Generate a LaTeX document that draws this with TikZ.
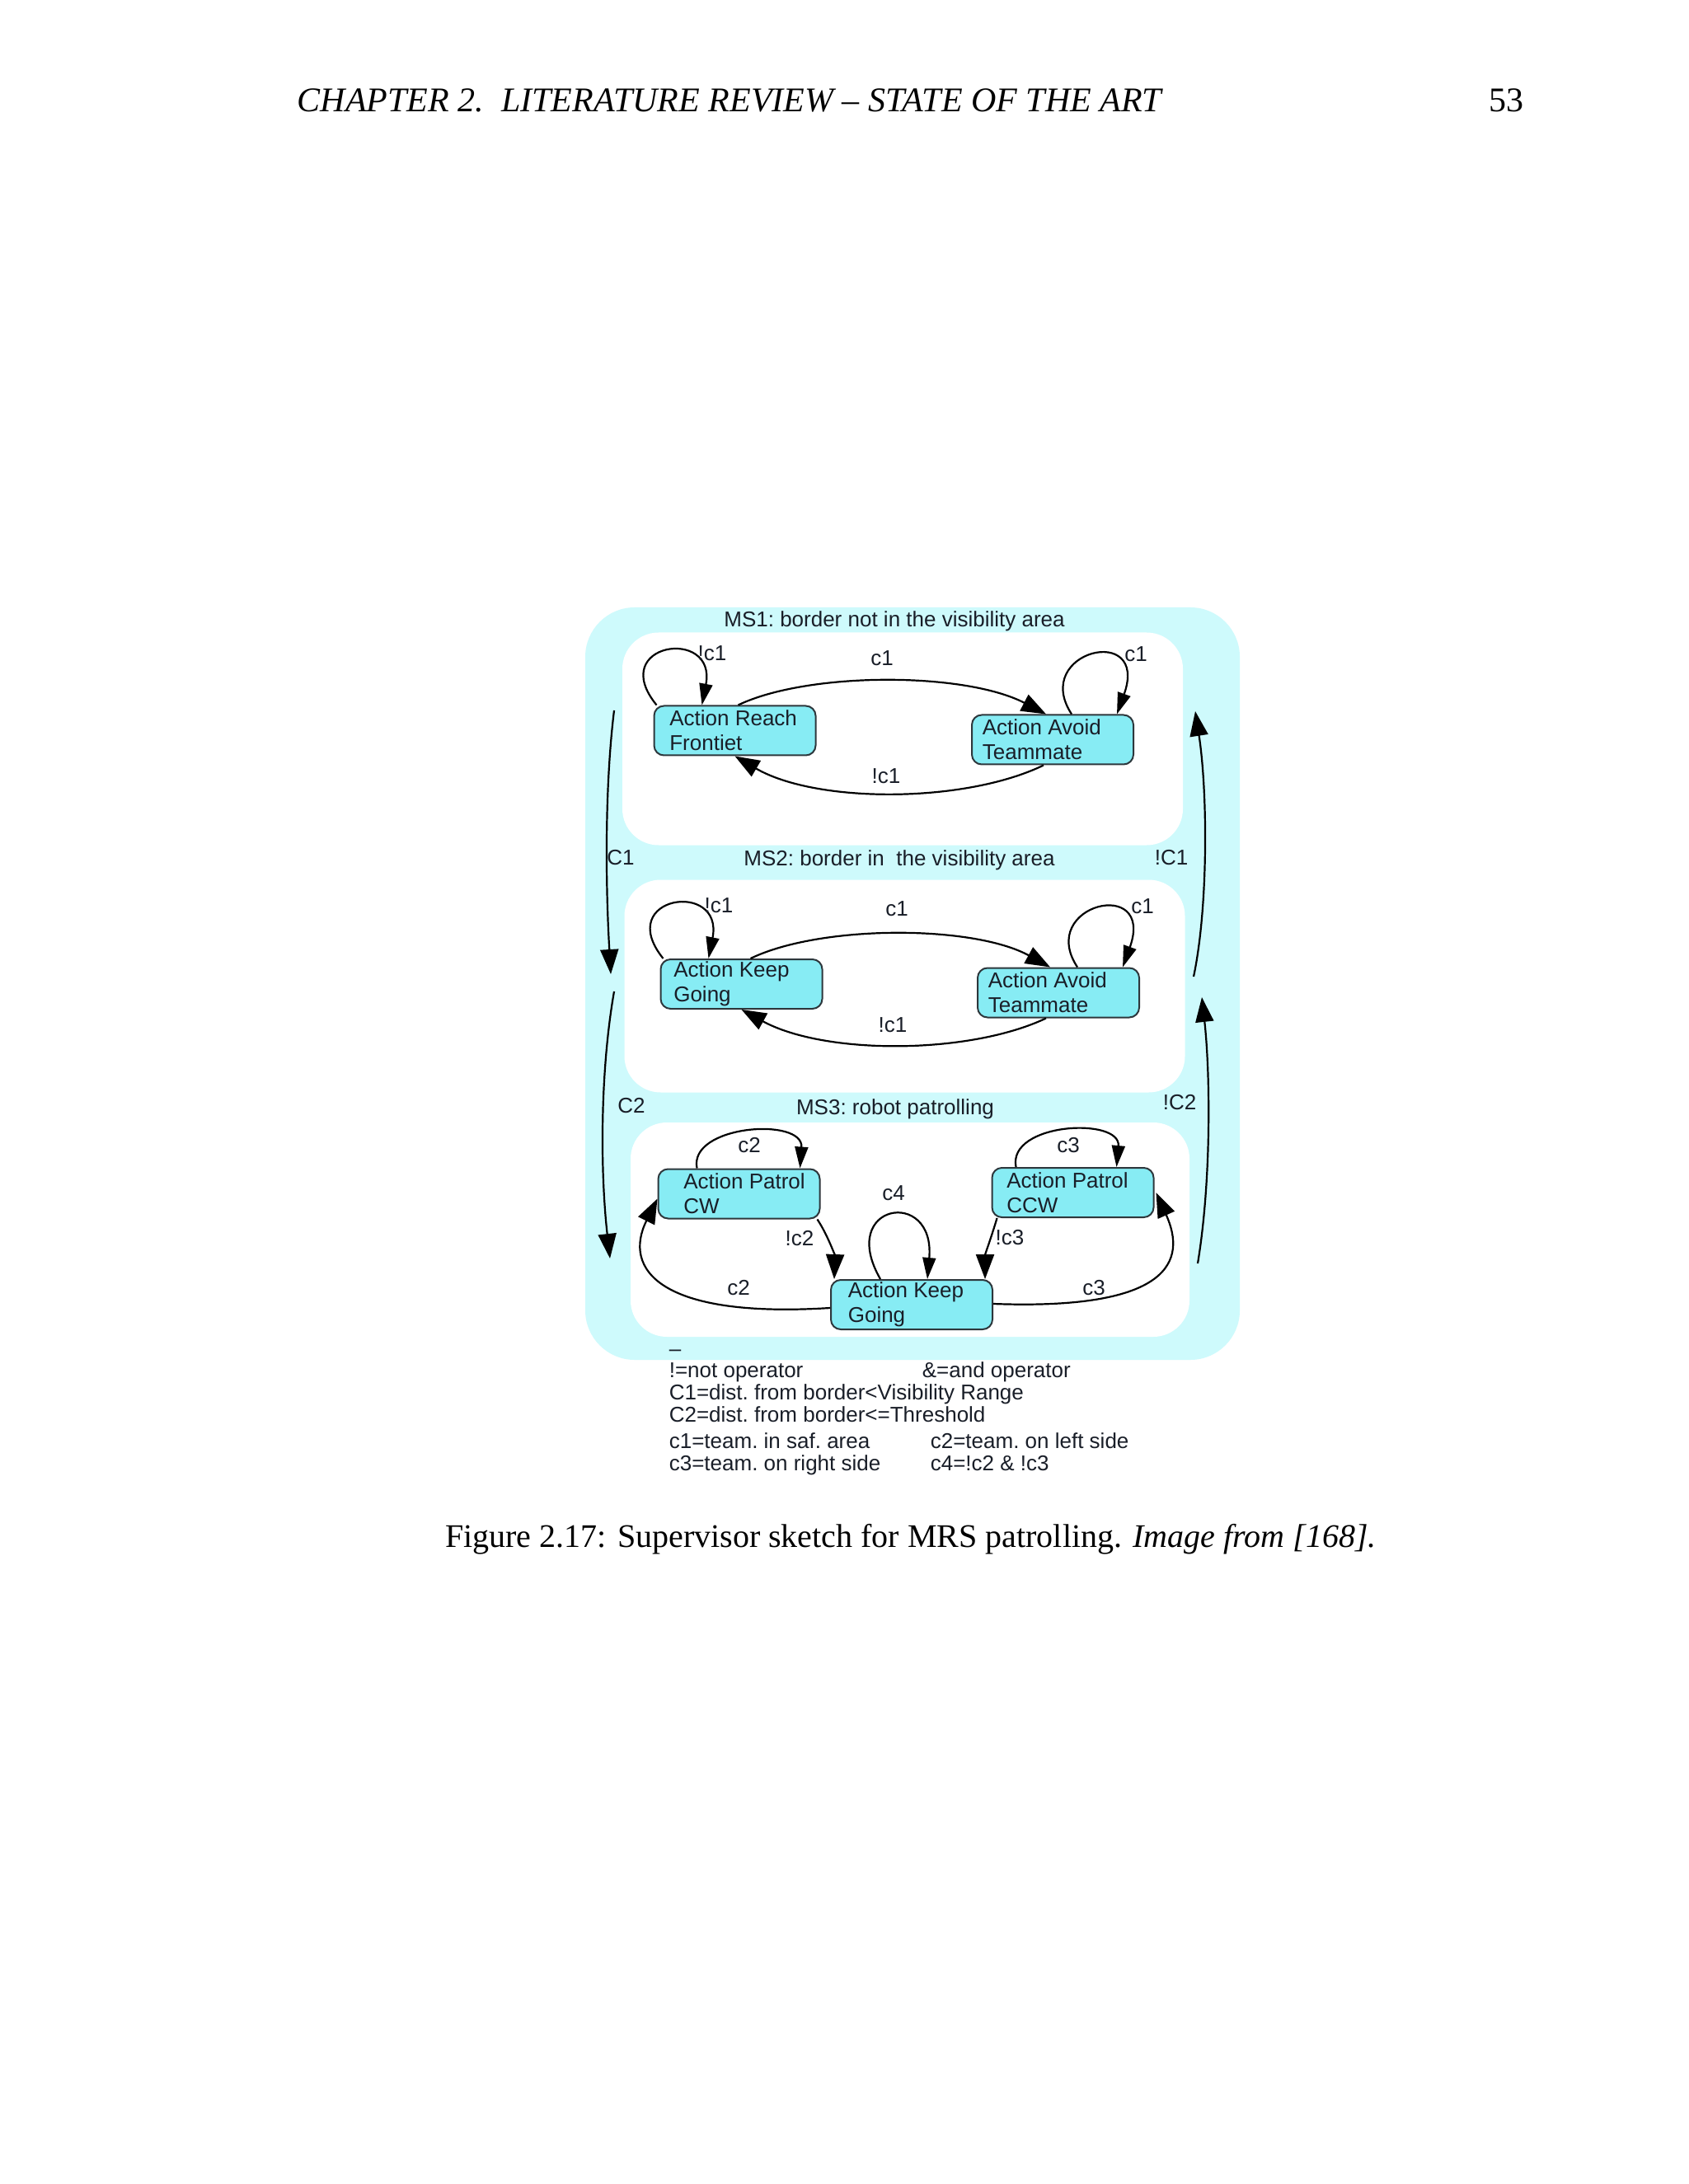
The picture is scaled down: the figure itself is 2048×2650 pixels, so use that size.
\documentclass[tikz,border=0pt]{standalone}
\usepackage{fontspec}
\setmainfont{Liberation Serif}
\newfontfamily\dsans{Liberation Sans}
\usetikzlibrary{arrows.meta,calc}
\definecolor{band}{RGB}{206,250,252}
\definecolor{nodefill}{RGB}{135,236,244}
\definecolor{nodeborder}{RGB}{45,55,60}
\definecolor{txt}{RGB}{25,30,40}
\tikzset{
  box/.style={draw=nodeborder, fill=nodefill, rounded corners=3pt, line width=0.5pt,
    minimum width=49pt, minimum height=15pt, inner sep=0pt},
  ntext/.style={font=\dsans\frenchspacing\fontsize{6.5}{7.5}\selectfont, text=txt, align=left, inner sep=0pt, anchor=west},
  lbl/.style={font=\dsans\frenchspacing\fontsize{6.5}{7.5}\selectfont, text=txt, inner sep=0pt},
  legend/.style={font=\dsans\frenchspacing\fontsize{6.5}{7.5}\selectfont, text=txt, inner sep=0pt, anchor=base west},
  panel/.style={fill=white, rounded corners=11pt, inner sep=0pt, minimum width=170pt, minimum height=64.5pt},
  trans/.style={line width=0.55pt, draw=black},
  loopar/.style={trans, -{Triangle[length=6.5pt,width=4pt]}},
  bigar/.style={trans, -{Triangle[length=7.5pt,width=5.5pt]}},
}
\begin{document}
\begin{tikzpicture}[x=0.25pt, y=-0.25pt]
\useasboundingbox (0,0) rectangle (2048,2650);
\fill[white] (0,0) rectangle (2048,2650);

% header and caption
\node[anchor=base west, inner sep=0pt, font=\fontsize{10.5}{12}\selectfont\itshape] (hdr) at (360,136) {CHAPTER 2.\ \ LITERATURE REVIEW – STATE OF THE ART};
\node[anchor=base east, inner sep=0pt, font=\fontsize{10.5}{12}\selectfont] (pg) at (1849,136) {53};
\node[anchor=base, inner sep=0pt, font=\fontsize{10}{12}\selectfont] (cap) at (1105,1877) {Figure 2.17: Supervisor sketch for MRS patrolling. \textit{Image from [168].}};

% outer band and panels
\node[fill=band, rounded corners=15pt, inner sep=0pt, minimum width=198.5pt, minimum height=228.25pt] (outer) at (1107,1193.5) {};
\node[panel] (P1) at (1095,896.5) {};
\node[panel] (P2) at (1097.5,1196.5) {};
\node[panel, minimum width=169.5pt, minimum height=65pt] (P3) at (1104,1492) {};

% titles
\node[lbl] (t1) at (1085,754) {MS1: border not in the visibility area};
\node[lbl] (t2) at (1091,1044) {MS2: border in\ \ the visibility area};
\node[lbl] (t3) at (1086,1346) {MS3: robot patrolling};

% state boxes
\node[box] (N1) at (891.5,886.5) {};
\node[box] (N2) at (1277,897.5) {};
\node[box] (N3) at (899.5,1194) {};
\node[box] (N4) at (1284,1204.5) {};
\node[box] (N5) at (896.5,1448.5) {};
\node[box] (N6) at (1301.5,1447) {};
\node[box] (N7) at (1106,1583) {};

\node[ntext] (N1t) at ($(N1.west)+(19,0)$) {Action Reach\\Frontiet};
\node[ntext] (N2t) at ($(N2.west)+(13,0)$) {Action Avoid\\Teammate};
\node[ntext] (N3t) at ($(N3.west)+(16,0)$) {Action Keep\\Going};
\node[ntext] (N4t) at ($(N4.west)+(13,0)$) {Action Avoid\\Teammate};
\node[ntext] (N5t) at ($(N5.west)+(31,0)$) {Action Patrol\\CW};
\node[ntext] (N6t) at ($(N6.west)+(18,0)$) {Action Patrol\\CCW};
\node[ntext] (N7t) at ($(N7.west)+(21,0)$) {Action Keep\\Going};

% MS1 transitions
\draw[loopar] ($(N1.north west)+(4,0)$) .. controls (735,780) and (870,760) .. ($(N1.north west)+(59,0)$);
\draw[loopar] ($(N2.north west)+(122,0)$) .. controls (1250,790) and (1395,755) .. ($(N2.north west)+(177,0)$);
\draw[bigar] ($(N1.north west)+(103,0)$) .. controls (980,815) and (1170,815) .. ($(N2.north west)+(91,0)$);
\draw[bigar] ($(N2.south west)+(88,0)$) .. controls (1170,975) and (990,975) .. (N1.south);
\node[lbl] (l1a) at (864,793) {!c1};
\node[lbl] (l1b) at (1378,794) {c1};
\node[lbl] (l1c) at (1070,799) {c1};
\node[lbl] (l1d) at (1075,942) {!c1};

% MS2 transitions
\draw[loopar] ($(N3.north west)+(4,0)$) .. controls (743.5,1087) and (878.5,1067) .. ($(N3.north west)+(59,0)$);
\draw[loopar] ($(N4.north west)+(122,0)$) .. controls (1257,1097.5) and (1402,1062.5) .. ($(N4.north west)+(177,0)$);
\draw[bigar] ($(N3.north west)+(110,0)$) .. controls (995,1122) and (1180,1122) .. ($(N4.north west)+(89,0)$);
\draw[bigar] ($(N4.south west)+(84,0)$) .. controls (1175,1280) and (1000,1280) .. (N3.south);
\node[lbl] (l2a) at (872,1099) {!c1};
\node[lbl] (l2b) at (1386,1100) {c1};
\node[lbl] (l2c) at (1088,1103) {c1};
\node[lbl] (l2d) at (1083,1244) {!c1};

% MS3 transitions
\draw[loopar] ($(N5.north west)+(48,0)$) .. controls (835,1365) and (975,1355) .. ($(N5.north west)+(173,0)$);
\draw[loopar] ($(N6.north west)+(30,0)$) .. controls (1222,1362) and (1360,1355) .. ($(N6.north west)+(152,0)$);
\draw[loopar] ($(N7.north west)+(61,0)$) .. controls (1015,1460) and (1135,1440) .. ($(N7.north west)+(118,0)$);
\draw[bigar] ($(N5.south east)+(-4,0)$) .. controls (1005,1500) and (1013,1525) .. ($(N7.north west)+(5,0)$);
\draw[bigar] ($(N6.south west)+(7,0)$) .. controls (1203,1500) and (1195,1522) .. ($(N7.north east)+(-10,0)$);
\draw[bigar] ($(N7.west)+(0,4)$) .. controls (800,1600) and (755,1540) .. ($(N5.west)+(0,6)$);
\draw[bigar] ($(N7.east)+(0,-1)$) .. controls (1420,1590) and (1440,1530) .. ($(N6.east)+(2,0)$);
\node[lbl] (l3a) at (909,1390) {c2};
\node[lbl] (l3b) at (1296,1390) {c3};
\node[lbl] (l3c) at (1084,1448) {c4};
\node[lbl] (l3d) at (970,1503) {!c2};
\node[lbl] (l3e) at (1225,1502) {!c3};
\node[lbl] (l3f) at (896,1563) {c2};
\node[lbl] (l3g) at (1327,1563) {c3};

% macro-state transitions
\coordinate (c1s) at (745,862);
\coordinate (c1e) at (741,1182);
\coordinate (c2s) at (745,1203);
\coordinate (c2e) at (740,1527);
\coordinate (nc1s) at (1448,1185);
\coordinate (nc1e) at (1450,863);
\coordinate (nc2s) at (1453,1533);
\coordinate (nc2e) at (1458,1210);
\draw[bigar] (c1s) .. controls (733,960) and (735,1080) .. (c1e);
\draw[bigar] (c2s) .. controls (728,1300) and (728,1420) .. (c2e);
\draw[bigar] (nc1s) .. controls (1466,1100) and (1465,960) .. (nc1e);
\draw[bigar] (nc2s) .. controls (1470,1430) and (1468,1300) .. (nc2e);
\node[lbl] (lC1) at (753,1041) {C1};
\node[lbl] (lnC1) at (1421,1041) {!C1};
\node[lbl] (lC2) at (766,1342) {C2};
\node[lbl] (lnC2) at (1431,1338) {!C2};

% legend
\node[legend] (g0) at (811,1645) {–};
\node[legend] (g1) at (811,1671) {!=not operator};
\node[legend] (g2) at (1118,1671) {\&=and operator};
\node[legend] (g3) at (811,1698) {C1=dist. from border<Visibility Range};
\node[legend] (g4) at (811,1725) {C2=dist. from border<=Threshold};
\node[legend] (g5) at (811,1757) {c1=team. in saf. area};
\node[legend] (g6) at (1128,1757) {c2=team. on left side};
\node[legend] (g7) at (811,1784) {c3=team. on right side};
\node[legend] (g8) at (1128,1784) {c4=!c2 \& !c3};
\end{tikzpicture}
\end{document}
